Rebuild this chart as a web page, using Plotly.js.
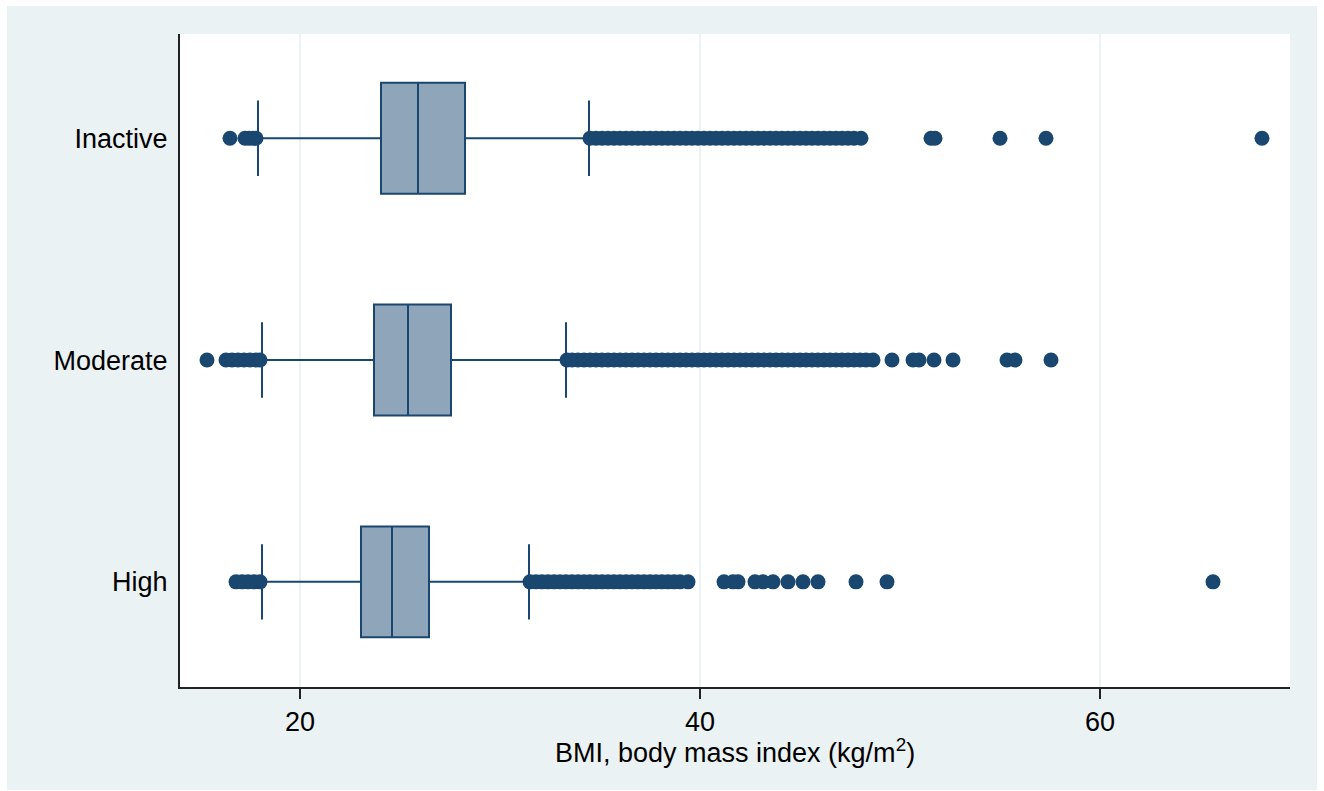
<!DOCTYPE html>
<html>
<head>
<meta charset="utf-8">
<script src="https://cdn.plot.ly/plotly-3.0.1.min.js"></script>
<style>
  html, body { margin: 0; padding: 0; background: #ffffff; }
  #chart { position: absolute; left: 7px; top: 6px; width: 1310px; height: 784px; }
</style>
</head>
<body>
<div id="chart"></div>
<script>
// Categories (bottom to top)
const categories = ['High', 'Moderate', 'Inactive'];

// Box statistics (BMI, kg/m2)
const lowerWhisker = [18.1, 18.1, 17.9];
const q1Values     = [23.05, 23.7, 24.05];
const medianValues = [24.6, 25.4, 25.9];
const q3Values     = [26.45, 27.55, 28.25];
const upperWhisker = [31.45, 33.3, 34.45];

// Outside values
const highOutliers = [
  16.8, 17.1, 17.4, 17.7, 18.0,
  31.5, 31.8, 32.1, 32.4, 32.7, 33.0, 33.3, 33.6, 33.9, 34.2, 34.5, 34.8, 35.1, 35.4,
  35.7, 36.0, 36.3, 36.6, 36.9, 37.2, 37.5, 37.8, 38.1, 38.4, 38.7, 39.0, 39.4,
  41.2, 41.65, 41.9, 42.75, 43.15, 43.65, 44.4, 45.15, 45.9, 47.8, 49.35, 65.65
];
const moderateOutliers = [
  15.35, 16.3, 16.6, 16.9, 17.2, 17.5, 17.8, 18.0,
  33.35, 33.6, 33.9, 34.2, 34.5, 34.8, 35.1, 35.4, 35.7, 36.0, 36.3, 36.6, 36.9, 37.2,
  37.5, 37.8, 38.1, 38.4, 38.7, 39.0, 39.3, 39.6, 39.9, 40.2, 40.5, 40.8, 41.1, 41.4,
  41.7, 42.0, 42.3, 42.6, 42.9, 43.2, 43.5, 43.8, 44.1, 44.4, 44.7, 45.0, 45.3, 45.6,
  45.9, 46.2, 46.5, 46.8, 47.1, 47.4, 47.7, 48.0, 48.3, 48.65,
  49.6, 50.65, 50.95, 51.7, 52.65, 55.35, 55.75, 57.55
];
const inactiveOutliers = [
  16.5, 17.25, 17.45, 17.65, 17.8,
  34.5, 34.8, 35.1, 35.4, 35.7, 36.0, 36.3, 36.6, 36.9, 37.2, 37.5, 37.8, 38.1, 38.4,
  38.7, 39.0, 39.3, 39.6, 39.9, 40.2, 40.5, 40.8, 41.1, 41.4, 41.7, 42.0, 42.3, 42.6,
  42.9, 43.2, 43.5, 43.8, 44.1, 44.4, 44.7, 45.0, 45.3, 45.6, 45.9, 46.2, 46.5, 46.8,
  47.1, 47.4, 47.7, 48.05,
  51.55, 51.75, 55.0, 57.3, 68.1
];
const outlierGroups = [highOutliers, moderateOutliers, inactiveOutliers];

const xTickVals = [20, 40, 60];
const xTickText = ['20', '40', '60'];
const xTitle = 'BMI, body mass index (kg/m<sup>2</sup>)';

const navy = '#1a476f';
const font = '"Liberation Sans", Arial, Helvetica, sans-serif';

const boxTrace = {
  type: 'box',
  orientation: 'h',
  y: categories,
  lowerfence: lowerWhisker,
  q1: q1Values,
  median: medianValues,
  q3: q3Values,
  upperfence: upperWhisker,
  boxpoints: false,
  width: 0.5,
  whiskerwidth: 0.68,
  fillcolor: '#8ea5ba',
  line: { color: navy, width: 2 },
  hoverinfo: 'skip',
  showlegend: false
};

const outX = [], outY = [];
outlierGroups.forEach((vals, i) => {
  vals.forEach(v => { outX.push(v); outY.push(categories[i]); });
});

const outTrace = {
  type: 'scatter',
  mode: 'markers',
  x: outX,
  y: outY,
  marker: { color: navy, size: 15, line: { width: 0 } },
  hoverinfo: 'x',
  showlegend: false
};

const layout = {
  paper_bgcolor: '#eaf2f3',
  plot_bgcolor: '#ffffff',
  margin: { l: 173, r: 27, t: 28, b: 103 },
  font: { family: font, size: 27, color: '#000000' },
  xaxis: {
    range: [14, 69.5],
    tickvals: xTickVals,
    ticktext: xTickText,
    ticks: 'outside',
    ticklen: 10,
    tickwidth: 1.5,
    tickcolor: '#222222',
    showline: true,
    linecolor: '#222222',
    linewidth: 2,
    showgrid: true,
    gridcolor: '#eaf2f3',
    gridwidth: 1.5,
    zeroline: false,
    tickfont: { family: font, size: 27, color: '#000000' }
  },
  yaxis: {
    type: 'category',
    categoryorder: 'array',
    categoryarray: categories,
    range: [-0.474, 2.47],
    showline: true,
    linecolor: '#222222',
    linewidth: 2,
    showgrid: false,
    zeroline: false,
    ticks: '',
    ticklabelstandoff: 5,
    tickfont: { family: font, size: 27, color: '#000000' }
  },
  annotations: [{
    text: xTitle,
    xref: 'paper', yref: 'paper',
    x: 0.5, y: 0,
    xanchor: 'center', yanchor: 'top',
    yshift: -46,
    borderpad: 0,
    showarrow: false,
    font: { family: font, size: 27, color: '#000000' }
  }]
};

Plotly.newPlot('chart', [boxTrace, outTrace], layout, { displayModeBar: false, staticPlot: true });
</script>
</body>
</html>
